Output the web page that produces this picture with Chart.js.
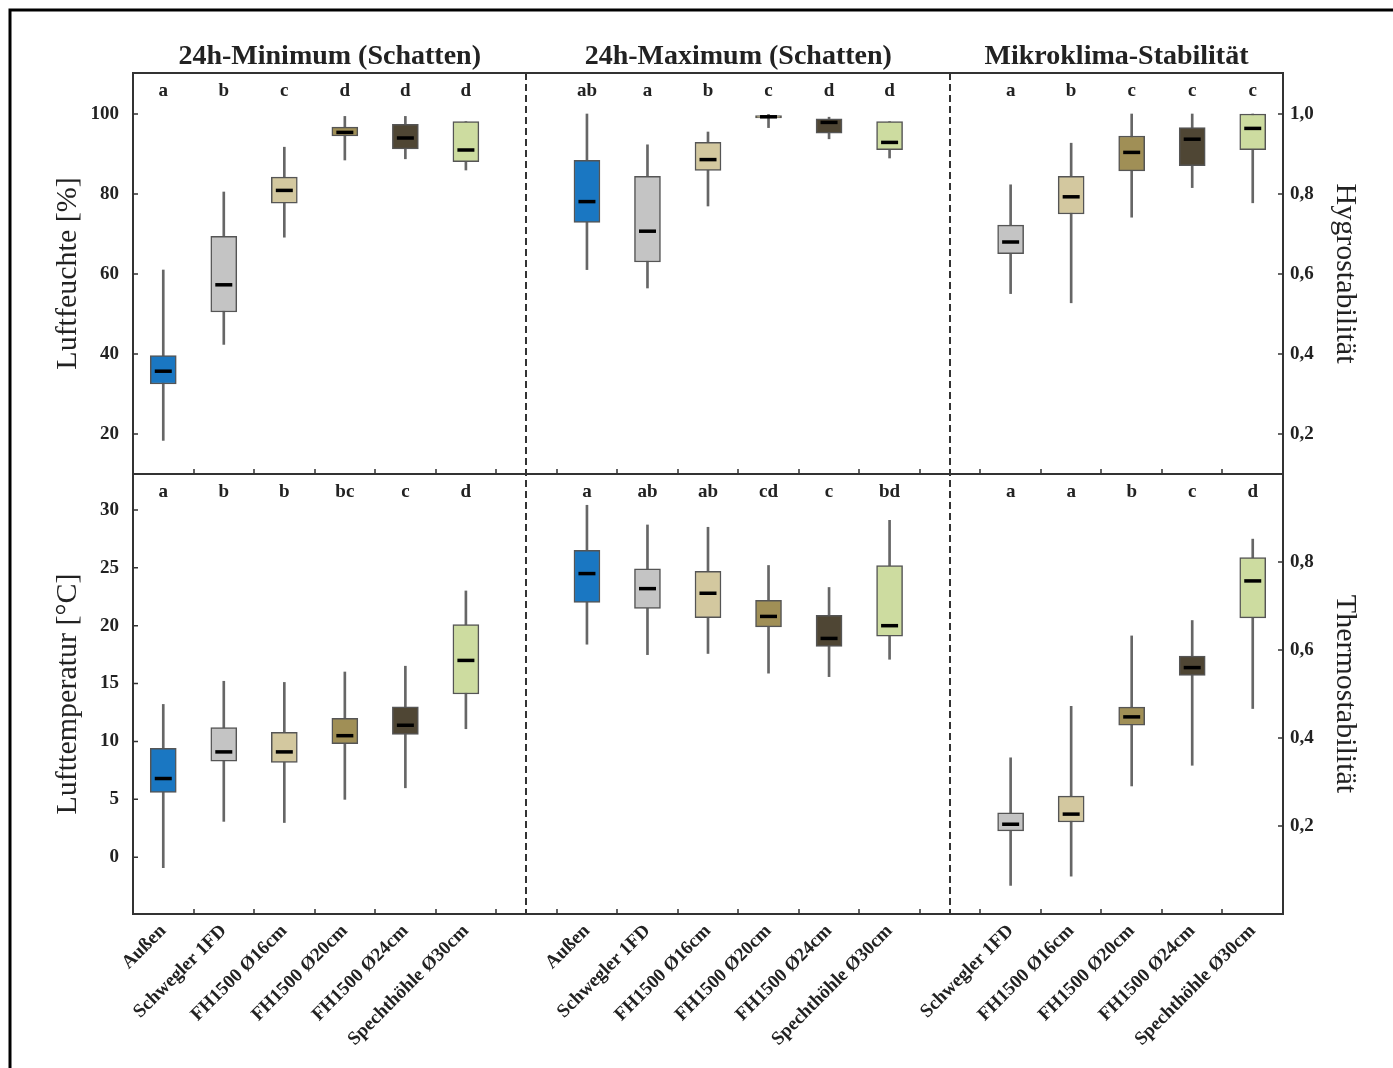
<!DOCTYPE html>
<html>
<head>
<meta charset="utf-8">
<title>Mikroklima Nistkästen</title>
<script src="https://cdn.jsdelivr.net/npm/chart.js@4.4.0/dist/chart.umd.min.js"></script>
<style>
  html, body { margin: 0; padding: 0; background: #fff; }
  canvas { display: block; }
</style>
</head>
<body>
<canvas id="boxes" width="1393" height="1068"></canvas>
<script>
// categories
const groups = ['Außen', 'Schwegler 1FD', 'FH1500 Ø16cm', 'FH1500 Ø20cm', 'FH1500 Ø24cm', 'Spechthöhle Ø30cm'];
const stabGroups = ['Schwegler 1FD', 'FH1500 Ø16cm', 'FH1500 Ø20cm', 'FH1500 Ø24cm', 'Spechthöhle Ø30cm'];
const panelTitles = ['24h-Minimum (Schatten)', '24h-Maximum (Schatten)', 'Mikroklima-Stabilität'];

// tick values
const humTicks = [20, 40, 60, 80, 100];
const tempTicks = [0, 5, 10, 15, 20, 25, 30];
const hygTicks = [0.2, 0.4, 0.6, 0.8, 1.0];
const thermTicks = [0.2, 0.4, 0.6, 0.8];

// [min, q1, median, q3, max] per group
const humMin = [[18.4, 32.5, 35.7, 39.6, 61.0], [42.4, 50.5, 57.3, 69.4, 80.5], [69.2, 77.7, 80.9, 84.2, 91.7],
  [88.5, 94.5, 95.4, 96.7, 99.4], [88.8, 91.3, 94.0, 97.4, 99.4], [86.0, 88.1, 91.0, 98.1, 98.1]];
const humMax = [[61.1, 72.9, 78.1, 88.4, 100.0], [56.5, 63.0, 70.7, 84.4, 92.3], [77.0, 85.9, 88.6, 92.9, 95.5],
  [96.6, 99.0, 99.3, 99.6, 99.9], [93.8, 95.2, 97.9, 98.8, 99.2], [89.0, 91.1, 92.9, 98.1, 98.1]];
const hygro = [[0.551, 0.651, 0.680, 0.722, 0.823], [0.528, 0.750, 0.793, 0.844, 0.927], [0.742, 0.858, 0.904, 0.945, 1.0],
  [0.816, 0.871, 0.937, 0.966, 1.0], [0.778, 0.911, 0.964, 1.0, 1.0]];
const tempMin = [[-0.9, 5.6, 6.8, 9.4, 13.2], [3.1, 8.3, 9.1, 11.2, 15.2], [3.0, 8.2, 9.1, 10.8, 15.1],
  [5.0, 9.8, 10.5, 12.0, 16.0], [6.0, 10.6, 11.4, 13.0, 16.5], [11.1, 14.1, 17.0, 20.1, 23.0]];
const tempMax = [[18.4, 22.0, 24.5, 26.5, 30.4], [17.5, 21.5, 23.2, 24.9, 28.7], [17.6, 20.7, 22.8, 24.7, 28.5],
  [15.9, 19.9, 20.8, 22.2, 25.2], [15.6, 18.2, 18.9, 20.9, 23.3], [17.1, 19.1, 20.0, 25.2, 29.1]];
const thermo = [[0.065, 0.189, 0.204, 0.230, 0.355], [0.086, 0.209, 0.227, 0.268, 0.472], [0.291, 0.429, 0.448, 0.470, 0.632],
  [0.338, 0.542, 0.560, 0.586, 0.667], [0.467, 0.673, 0.757, 0.810, 0.852]];

// significance letters
const humMinLetters = ['a', 'b', 'c', 'd', 'd', 'd'];
const humMaxLetters = ['ab', 'a', 'b', 'c', 'd', 'd'];
const hygroLetters = ['a', 'b', 'c', 'c', 'c'];
const tempMinLetters = ['a', 'b', 'b', 'bc', 'c', 'd'];
const tempMaxLetters = ['a', 'ab', 'ab', 'cd', 'c', 'bd'];
const thermoLetters = ['a', 'a', 'b', 'c', 'd'];

const groupColors = ['#1a77c2', '#c4c4c4', '#d3c89f', '#a08f56', '#4f4634', '#cddca0'];

const slots = [...groups, '', ...groups, '', ...stabGroups];
const serif = '"Liberation Serif", "DejaVu Serif", serif';
Chart.defaults.font.family = serif;
Chart.defaults.color = '#222';

function spread(values, offset) {
  const arr = new Array(slots.length).fill(null);
  values.forEach((v, i) => { arr[offset + i] = v; });
  return arr;
}

const panels = [
  {stats: humMin, letters: humMinLetters, offset: 0, axis: 'yHum', colors: groupColors},
  {stats: humMax, letters: humMaxLetters, offset: 7, axis: 'yHum', colors: groupColors},
  {stats: hygro, letters: hygroLetters, offset: 14, axis: 'yHyg', colors: groupColors.slice(1)},
  {stats: tempMin, letters: tempMinLetters, offset: 0, axis: 'yTemp', colors: groupColors},
  {stats: tempMax, letters: tempMaxLetters, offset: 7, axis: 'yTemp', colors: groupColors},
  {stats: thermo, letters: thermoLetters, offset: 14, axis: 'yTherm', colors: groupColors.slice(1)}
];

const datasets = [];
panels.forEach(p => {
  datasets.push({
    type: 'bar', yAxisID: p.axis, order: 3, grouped: false,
    data: spread(p.stats.map(s => [s[0], s[4]]), p.offset),
    backgroundColor: '#666', barThickness: 2
  });
  datasets.push({
    type: 'bar', yAxisID: p.axis, order: 2, grouped: false,
    data: spread(p.stats.map(s => [s[1], s[3]]), p.offset),
    backgroundColor: spread(p.colors, p.offset),
    borderColor: '#555', borderWidth: 1.5, borderSkipped: false, barThickness: 26
  });
  datasets.push({
    type: 'line', yAxisID: p.axis, order: 1, showLine: false,
    data: spread(p.stats.map(s => s[2]), p.offset),
    pointStyle: 'line', pointRadius: 8.5, pointHoverRadius: 8.5,
    pointBorderWidth: 3.5, pointBorderColor: '#000'
  });
});

const tickFont = {family: serif, size: 19, weight: 'bold'};
const titleFont = {family: serif, size: 30, weight: 'normal'};
const comma = v => v.toFixed(1).replace('.', ',');

function yAxis(pos, stack, weight, min, max, tickValues, title, fmt) {
  return {
    type: 'linear', position: pos, stack: stack, stackWeight: weight,
    min: min, max: max,
    grid: {display: false, drawTicks: false},
    border: {display: false},
    ticks: {font: tickFont, padding: pos === 'left' ? 14 : 7, callback: fmt},
    title: {display: true, text: title, font: titleFont,
      padding: {top: pos === 'left' ? 50 : 30, bottom: 0}},
    afterBuildTicks: s => { s.ticks = tickValues.map(v => ({value: v})); },
    afterFit: s => { s.width = pos === 'left' ? 133 : 110; }
  };
}

const decor = {
  id: 'decor',
  afterDraw(chart) {
    const {ctx, chartArea: a, scales} = chart;
    const x = scales.x;
    const yH = scales.yHum, yT = scales.yTemp, yG = scales.yHyg, yM = scales.yTherm;
    ctx.save();
    // outer figure frame
    ctx.strokeStyle = '#000';
    ctx.lineWidth = 3;
    ctx.beginPath();
    ctx.moveTo(10, chart.height);
    ctx.lineTo(10, 10);
    ctx.lineTo(chart.width, 10);
    ctx.stroke();
    // plot frame
    ctx.strokeStyle = '#333';
    ctx.lineWidth = 2;
    ctx.strokeRect(a.left, a.top, a.width, a.height);
    ctx.beginPath();
    ctx.moveTo(a.left, yH.bottom);
    ctx.lineTo(a.right, yH.bottom);
    ctx.stroke();
    // dashed dividers
    ctx.setLineDash([7, 4]);
    [6, 13].forEach(i => {
      const px = Math.round(x.getPixelForValue(i));
      ctx.beginPath();
      ctx.moveTo(px, a.top);
      ctx.lineTo(px, a.bottom);
      ctx.stroke();
    });
    ctx.setLineDash([]);
    // inward ticks
    ctx.lineWidth = 1.5;
    ctx.beginPath();
    for (let k = 1; k < slots.length; k++) {
      const px = Math.round(x.getPixelForValue(k - 0.5));
      [yH.bottom, a.bottom].forEach(yb => { ctx.moveTo(px, yb); ctx.lineTo(px, yb - 5); });
    }
    [yH, yT].forEach(s => s.ticks.forEach(t => {
      const py = s.getPixelForValue(t.value);
      ctx.moveTo(a.left, py); ctx.lineTo(a.left + 5, py);
    }));
    [yG, yM].forEach(s => s.ticks.forEach(t => {
      const py = s.getPixelForValue(t.value);
      ctx.moveTo(a.right, py); ctx.lineTo(a.right - 5, py);
    }));
    ctx.stroke();
    // panel titles
    ctx.fillStyle = '#222';
    ctx.textAlign = 'center';
    ctx.textBaseline = 'alphabetic';
    ctx.font = 'bold 28px ' + serif;
    const d1 = x.getPixelForValue(6), d2 = x.getPixelForValue(13);
    [(a.left + d1) / 2, (d1 + d2) / 2, (d2 + a.right) / 2].forEach((cx, i) => {
      ctx.fillText(panelTitles[i], cx, 64);
    });
    // letters
    ctx.font = 'bold 19px ' + serif;
    panels.forEach(p => {
      const top = scales[p.axis].top;
      p.letters.forEach((l, i) => ctx.fillText(l, x.getPixelForValue(p.offset + i), top + 23));
    });
    ctx.restore();
  }
};

new Chart(document.getElementById('boxes'), {
  type: 'bar',
  data: {labels: slots, datasets: datasets},
  options: {
    responsive: false,
    animation: false,
    layout: {padding: {top: 73, left: 0, right: 0, bottom: 0}},
    plugins: {legend: {display: false}, tooltip: {enabled: false}},
    scales: {
      x: {
        type: 'category', offset: true,
        grid: {display: false, drawTicks: false},
        border: {display: false},
        ticks: {font: tickFont, autoSkip: false, minRotation: 45, maxRotation: 45, padding: 6},
        afterFit: s => { s.height = 154; }
      },
      yTemp: yAxis('left', 'left', 440, -4.9, 33.1, tempTicks, 'Lufttemperatur [°C]', v => v),
      yHum: yAxis('left', 'left', 401, 10, 110.25, humTicks, 'Luftfeuchte [%]', v => v),
      yHyg: yAxis('right', 'right', 401, 0.1, 1.1025, hygTicks, 'Hygrostabilität', comma),
      yTherm: yAxis('right', 'right', 440, 0, 1.0, thermTicks, 'Thermostabilität', comma)
    }
  },
  plugins: [decor]
});
</script>
</body>
</html>
